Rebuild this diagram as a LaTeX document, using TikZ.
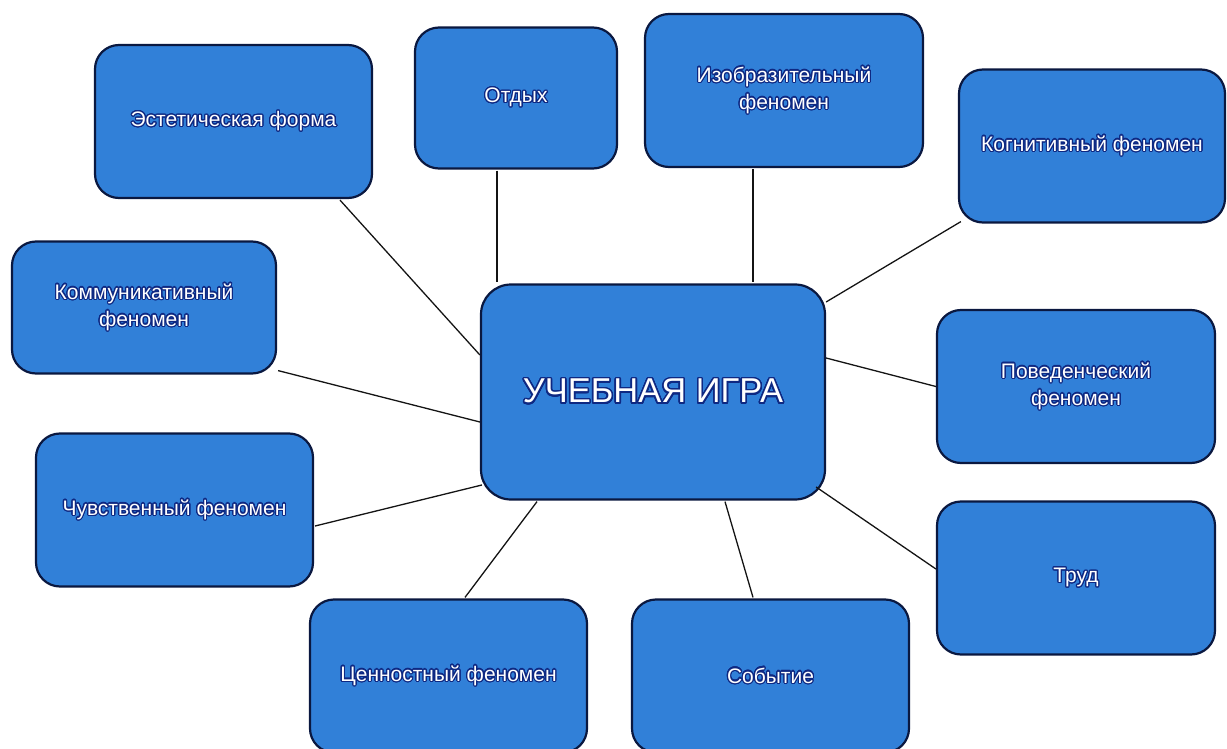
\documentclass[tikz,border=0pt]{standalone}
\usepackage{fontspec}
\setmainfont{Liberation Sans}
\usepackage{contour}
\usetikzlibrary{calc}
\definecolor{boxfill}{RGB}{49,128,216}
\definecolor{boxline}{RGB}{10,24,64}
\definecolor{glowcol}{RGB}{14,40,130}
\definecolor{linkcol}{RGB}{20,20,20}
\contourlength{1.1pt}
\contournumber{24}
\newcommand{\gt}[1]{\contour{glowcol}{#1}}
\tikzset{
  box/.style={draw=boxline, line width=2.2pt, fill=boxfill, rounded corners=24pt,
    inner sep=0pt, minimum width=277pt, minimum height=153pt, text=white,
    align=center, font=\fontsize{21}{27}\selectfont},
  link/.style={draw=linkcol, line width=1.3pt}
}
\begin{document}
\begin{tikzpicture}[x=1pt,y=-1pt]
\useasboundingbox (0,0) rectangle (1227,749);
\clip (0,0) rectangle (1227,749);
\node[box] (est) at (233.5,121.5) {\gt{Эстетическая форма}};
\node[box, minimum width=202pt, minimum height=141pt] (otd) at (516,98) {\gt{Отдых}};
\node[box, minimum width=278pt] (izo) at (784,90.5) {\gt{Изобразительный}\\\gt{феномен}};
\node[box, minimum width=266pt] (kog) at (1092,146) {\gt{Когнитивный феномен}};
\node[box, minimum width=264pt, minimum height=132pt] (kom) at (144,307.5) {\gt{Коммуникативный}\\\gt{феномен}};
\node[box, minimum width=344pt, minimum height=215pt, rounded corners=30pt, font=\fontsize{34.5}{40}\selectfont] (c) at (653,392) {\contourlength{1.6pt}\contour{glowcol}{УЧЕБНАЯ ИГРА}};
\node[box, minimum width=278pt] (pov) at (1076,386.5) {\gt{Поведенческий}\\\gt{феномен}};
\node[box] (chu) at (174.5,510) {\gt{Чувственный феномен}};
\node[box, minimum width=278pt] (tru) at (1076,578) {\gt{Труд}};
\node[box] (cen) at (448.5,676) {\gt{Ценностный феномен}};
\node[box] (sob) at (770.5,676) {\gt{Событие}};
\draw[link] ($(est.south)+(106.5,1)$) -- ($(c.west)+(0,-37)$);
\draw[link] ($(otd.south)+(-19,1)$) -- ($(c.north)+(-156,-1)$);
\draw[link] ($(izo.south)+(-31,1)$) -- ($(c.north)+(100,-1)$);
\draw[link] ($(kog.south west)+(3,-2)$) -- ($(c.east)+(0,-90)$);
\draw[link] ($(kom.south east)+(1,-4)$) -- ($(c.west)+(0,30)$);
\draw[link] (pov.west) -- ($(c.east)+(0,-34)$);
\draw[link] ($(chu.east)+(1,16)$) -- ($(c.west)+(2,93)$);
\draw[link] ($(tru.west)+(0,-9)$) -- ($(c.east)+(-10,95)$);
\draw[link] ($(cen.north)+(16.5,-1)$) -- ($(c.south)+(-116,1)$);
\draw[link] ($(sob.north)+(-17.5,-1)$) -- ($(c.south)+(72,1)$);
\end{tikzpicture}
\end{document}
